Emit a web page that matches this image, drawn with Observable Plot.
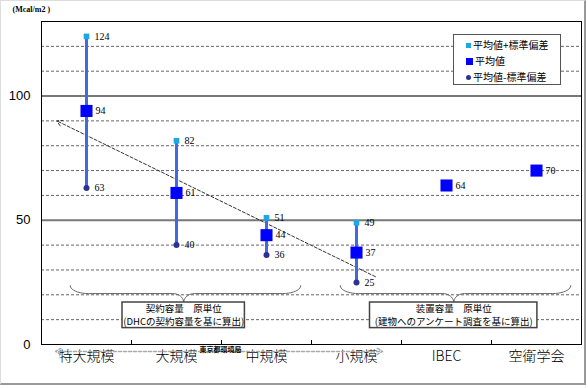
<!DOCTYPE html>
<html>
<head>
<meta charset="utf-8">
<script src="https://cdn.jsdelivr.net/npm/d3@7"></script>
<script src="https://cdn.jsdelivr.net/npm/@observablehq/plot@0.6"></script>
<style>
  html, body { margin: 0; padding: 0; background: #fff; }
  #wrap { position: relative; width: 588px; height: 388px; overflow: hidden; }
  #border { position: absolute; left: 0; top: 0; width: 583px; height: 382px;
    border-left: 1px solid #ddd; border-top: 1px solid #ddd;
    border-right: 2px solid #999; border-bottom: 2px solid #999; pointer-events: none; }
  #legend { position: absolute; left: 453px; top: 34px; width: 106px; height: 49px;
    border: 1px solid #555; background: #fff;
    font-family: "Noto Sans CJK JP", sans-serif; font-size: 10px; color: #000; }
  #legend .row { position: absolute; left: 12px; height: 12px; line-height: 12px; white-space: nowrap; }
  #legend .mk { display: inline-block; vertical-align: middle; margin-right: 2px; }
</style>
</head>
<body>
<div id="wrap"><div id="chart"></div><div id="legend"></div><div id="border"></div></div>
<script>
// ---- data ----
const categories = ["特大規模", "大規模", "中規模", "小規模", "IBEC", "空衛学会"];
const meanValues = [94, 61, 44, 37, 64, 70];
const plusSD = [124, 82, 51, 49, null, null];
const minusSD = [63, 40, 36, 25, null, null];
const legendLabels = ["平均値+標準偏差", "平均値", "平均値-標準偏差"];
const yTickValues = [0, 50, 100];
const gridMinor = [10, 20, 30, 40, 60, 70, 80, 90, 110, 120];
const gridMajor = [50, 100];
const unitLabel = "(Mcal/m2 )";
const sourceLabel = "東京都環境局";
const groupNotes = [
  { from: 0, to: 3, line1: "契約容量　原単位", line2: "(DHCの契約容量を基に算出)", half: 0.68 },
  { from: 3, to: 6, line1: "装置容量　原単位", line2: "(建物へのアンケート調査を基に算出)", half: 0.93 }
];

// ---- colours ----
const cLine = "#4169e1", cPlus = "#1ea8e2", cMean = "#0000ff", cMinus = "#2e3192";

const rows = categories.map((c, i) => ({
  cat: c, x: i + 0.5, mean: meanValues[i], plus: plusSD[i], minus: minusSD[i]
}));
const sdRows = rows.filter(d => d.plus != null);

// brace generator (data units)
function brace(xa, xb, xm, yTop, yMid, yTip, rxEnd, rxTip) {
  const pts = [];
  const n = 10;
  for (let k = 0; k <= n; k++) { const t = k / n * Math.PI / 2;
    pts.push([xa + rxEnd - rxEnd * Math.cos(t), yTop - (yTop - yMid) * Math.sin(t)]); }
  for (let k = 0; k <= n; k++) { const t = k / n * Math.PI / 2;
    pts.push([xm - rxTip + rxTip * Math.sin(t), yTip + (yMid - yTip) * Math.cos(t)]); }
  for (let k = n; k >= 0; k--) { const t = k / n * Math.PI / 2;
    pts.push([xm + rxTip - rxTip * Math.sin(t), yTip + (yMid - yTip) * Math.cos(t)]); }
  for (let k = n; k >= 0; k--) { const t = k / n * Math.PI / 2;
    pts.push([xb - rxEnd + rxEnd * Math.cos(t), yTop - (yTop - yMid) * Math.sin(t)]); }
  return pts;
}
const braces = groupNotes.map(g => brace(g.from + 0.32, g.to - 0.12, (g.from + g.to) / 2 + 0.08, 23.7, 20.5, 16.9, 0.2, 0.12));
const boxes = groupNotes.map(g => ({ cx: (g.from + g.to) / 2 + 0.08, half: g.half, line1: g.line1, line2: g.line2 }));

const jp = "'Noto Sans CJK JP', sans-serif";
const serif = "'Liberation Serif', serif";

const chart = Plot.plot({
  width: 588, height: 388,
  marginLeft: 41, marginRight: 7, marginTop: 21, marginBottom: 44,
  x: { domain: [0, 6] },
  y: { domain: [0, 130] },
  style: { fontFamily: jp, background: "transparent", color: "#000" },
  marks: [
    Plot.ruleY(gridMinor, { stroke: "#666", strokeDasharray: "3,2", strokeWidth: 1 }),
    Plot.ruleY(gridMajor, { stroke: "#777", strokeWidth: 2 }),
    Plot.ruleX([1, 2, 3, 4, 5], { y1: 0, y2: 1.6, stroke: "#000" }),
    Plot.frame({ stroke: "#000" }),
    Plot.axisY({ ticks: yTickValues, tickSize: 0, tickPadding: 11, fontSize: 13, label: null,
      fontFamily: "'Liberation Sans', sans-serif" }),
    Plot.axisX({ ticks: rows.map(d => d.x), tickFormat: v => categories[Math.floor(v)], tickSize: 0,
      tickPadding: 7, fontSize: 14, fontWeight: 300, label: null }),
    // trend arrow
    Plot.arrow([0], { x1: 3.71, y1: 27.3, x2: 0.17, y2: 90, stroke: "#333", strokeWidth: 1,
      strokeDasharray: "3,2", headLength: 9, bend: 0 }),
    // braces
    ...braces.map(b => Plot.line(b, { x: d => d[0], y: d => d[1], stroke: "#666", strokeWidth: 1 })),
    // note boxes
    Plot.rect(boxes, { x1: d => d.cx - d.half, x2: d => d.cx + d.half, y1: 6.6, y2: 16.9,
      fill: "#fff", stroke: "#444", strokeWidth: 1.5 }),
    Plot.text(boxes, { x: "cx", y: 14.3, text: "line1", fontSize: 9.5, fontFamily: jp }),
    Plot.text(boxes, { x: "cx", y: 9.2, text: "line2", fontSize: 9.5, fontFamily: jp }),
    // bottom double arrow
    Plot.arrow([0], { x1: 2, y1: -2.8, x2: 0.156, y2: -2.8, stroke: "#aaa", strokeDasharray: "3,2", headLength: 6 }),
    Plot.arrow([0], { x1: 2, y1: -2.8, x2: 3.79, y2: -2.8, stroke: "#aaa", strokeDasharray: "3,2", headLength: 6 }),
    Plot.text([sourceLabel], { x: 1.99, y: -2.2, fontSize: 7, fontWeight: "bold", fontFamily: jp }),
    // SD lines
    Plot.ruleX(sdRows, { x: "x", y1: "minus", y2: "plus", stroke: cLine, strokeWidth: 3 }),
    Plot.dot(sdRows, { x: "x", y: "plus", symbol: "square", r: 3.2, fill: cPlus, stroke: null }),
    Plot.dot(sdRows, { x: "x", y: "minus", symbol: "circle", r: 3, fill: cMinus, stroke: null }),
    Plot.dot(rows, { x: "x", y: "mean", symbol: "square", r: 6.8, fill: cMean, stroke: null }),
    // value labels
    Plot.text(sdRows, { x: "x", y: "plus", text: "plus", dx: 8, textAnchor: "start", fontSize: 10, fontFamily: serif }),
    Plot.text(sdRows, { x: "x", y: "minus", text: "minus", dx: 8, textAnchor: "start", fontSize: 10, fontFamily: serif }),
    Plot.text(rows, { x: "x", y: "mean", text: "mean", dx: 9, textAnchor: "start", fontSize: 10, fontFamily: serif }),
    // unit label
    Plot.text([unitLabel], { frameAnchor: "top-left", dx: -29, dy: -15, textAnchor: "start", lineAnchor: "top",
      fontSize: 8, fontWeight: "bold", fontFamily: serif })
  ]
});
document.getElementById("chart").appendChild(chart);

// legend (HTML, inside plot area)
const legend = document.getElementById("legend");
const markers = [
  `<span class="mk" style="width:5px;height:5px;background:${cPlus}"></span>`,
  `<span class="mk" style="width:7px;height:7px;background:${cMean}"></span>`,
  `<span class="mk" style="width:5px;height:5px;border-radius:50%;background:${cMinus}"></span>`
];
legendLabels.forEach((lab, i) => {
  const r = document.createElement("div");
  r.className = "row";
  r.style.top = (3 + i * 16) + "px";
  r.innerHTML = markers[i] + `<span style="vertical-align:middle">${lab}</span>`;
  legend.appendChild(r);
});
</script>
</body>
</html>
